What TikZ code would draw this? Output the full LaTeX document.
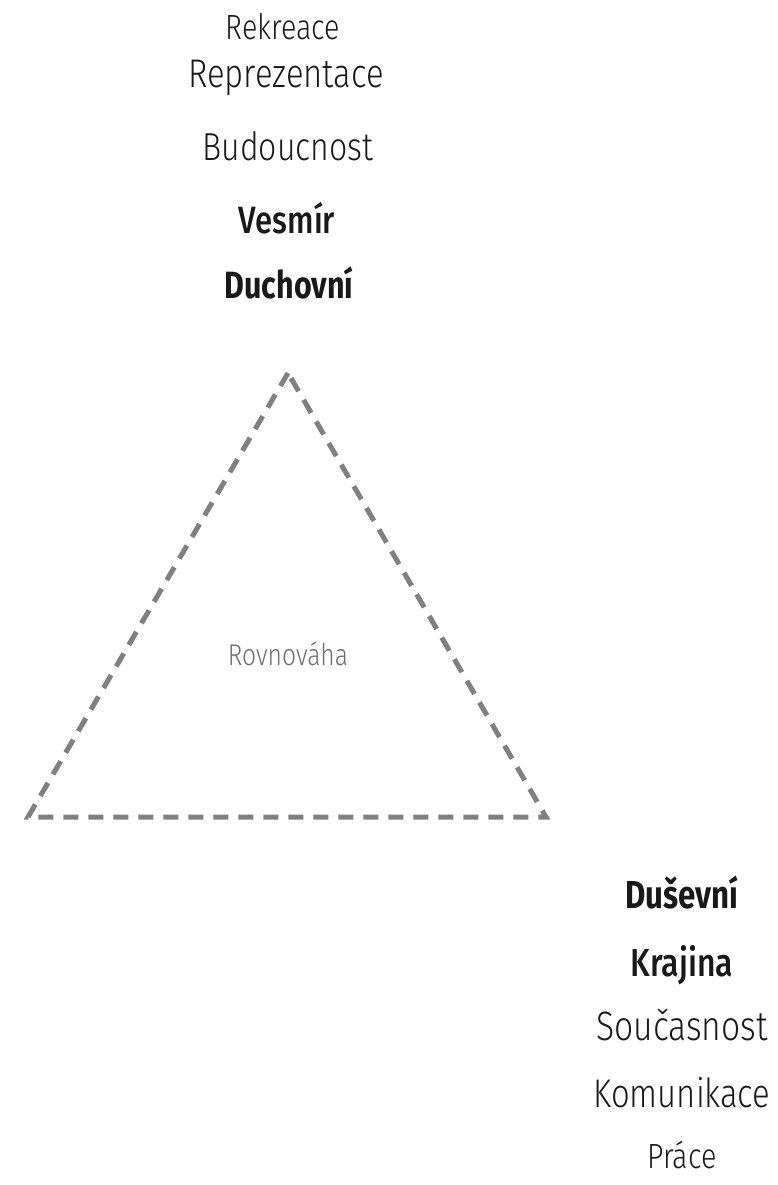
\documentclass[tikz,border=0pt]{standalone}
\usepackage{fontspec}
\usepackage{tikz}
\newfontfamily\thinfont{Fira Sans Light}[FakeStretch=0.82]
\newfontfamily\midfont{Fira Sans Medium}[FakeStretch=0.82]
\newfontfamily\heavyfont{Fira Sans Bold}[FakeStretch=0.8]
\definecolor{dashgray}{HTML}{808080}
\definecolor{inkgray}{HTML}{6E6E6E}
\tikzset{
	word/.style={anchor=base, inner sep=0pt, text=black!90},
	edgeline/.style={draw=dashgray, line width=5pt, dash pattern=on 15pt off 10pt, line join=miter}
}
\def\fsz#1{\fontsize{#1}{#1}\selectfont}

\begin{document}
\begin{tikzpicture}[x=1pt, y=-1pt]
				%%%%% START %%%%%
				\useasboundingbox (0, 0) rectangle (777, 1185);
				
				\node[word, font=\thinfont\fsz{35}] (rekreace) at (283, 40) {Rekreace};
				\node[word, font=\thinfont\fsz{40}] (reprezentace) at (286, 88) {Reprezentace};
				\node[word, font=\thinfont\fsz{39}] (budoucnost) at (288, 161) {Budoucnost};
				\node[word, font=\midfont\fsz{38}] (vesmir) at (287, 233) {Vesmír};
				\node[word, font=\heavyfont\fsz{38}] (duchovni) at (289, 298) {Duchovní};
				
				\coordinate (top) at (288, 373);
				\coordinate (left) at (28, 817);
				\coordinate (right) at (546, 817);
				\draw[edgeline] (top) -- (left) -- (right) -- cycle;
				\node[word, font=\thinfont\fsz{30}, text=inkgray] (rovnovaha) at (288, 665) {Rovnováha};
				
				\node[word, font=\heavyfont\fsz{39}] (dusevni) at (682, 908) {Duševní};
				\node[word, font=\midfont\fsz{39}] (krajina) at (682, 976) {Krajina};
				\node[word, font=\thinfont\fsz{41}] (soucasnost) at (682, 1040) {Současnost};
				\node[word, font=\thinfont\fsz{40}] (komunikace) at (682, 1107) {Komunikace};
				\node[word, font=\thinfont\fsz{35}] (prace) at (682, 1168) {Práce};
				%%%%% END %%%%%
\end{tikzpicture}
\end{document}
